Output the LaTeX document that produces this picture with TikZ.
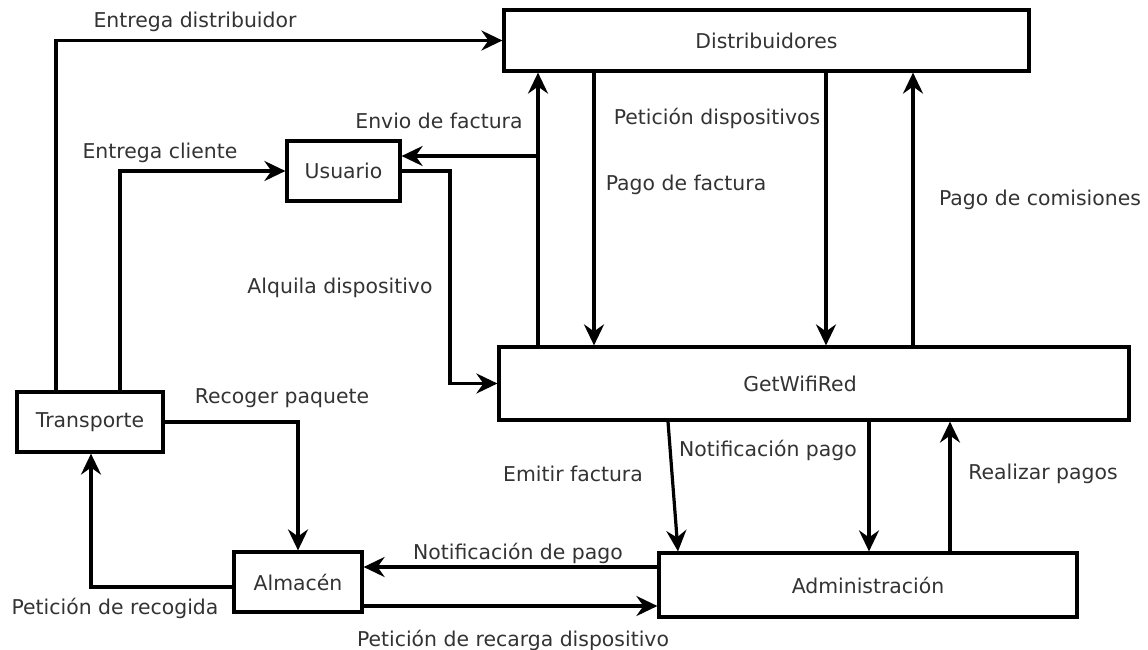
\documentclass[tikz,border=0pt]{standalone}
\usepackage{fontspec}
\setmainfont{DejaVu Sans}
\usetikzlibrary{arrows.meta}
\begin{document}
\begin{tikzpicture}[x=1pt,y=-1pt,
  font=\fontsize{20.4}{24}\selectfont,
  box/.style={draw, line width=3.2pt, fill=white, inner sep=0pt, text=black!80},
  arr/.style={line width=3.2pt, -{Stealth[length=21pt, width=20pt, inset=7pt]}},
  lbl/.style={text=black!80, inner sep=0pt}]
\useasboundingbox (0,0) rectangle (1148,650);

% entities
\node[box, minimum width=525pt, minimum height=61pt] (distr) at (766.5,40.5) {Distribuidores};
\node[box, minimum width=113pt, minimum height=60pt] (user) at (343.5,171) {Usuario};
\node[box, minimum width=630pt, minimum height=73pt,
      label={[lbl, xshift=-14pt]center:GetWifiRed}] (get) at (814,383.5) {};
\node[box, minimum width=146pt, minimum height=60pt] (trans) at (90,422) {Transporte};
\node[box, minimum width=128pt, minimum height=60pt] (alm) at (298,582) {Almacén};
\node[box, minimum width=418pt, minimum height=64pt] (admin) at (868,585) {Administración};

% branch point of the invoice line
\coordinate (jf) at (538,156);

% flows
\draw[arr] (trans.north -| 56,0) |- (distr.west);
\draw[arr] (trans.north -| 120,0) |- (user.west);
\draw[arr] (get.north -| 538,0) -- (distr.south -| 538,0);
\draw[arr] (jf) -- (user.east |- jf);
\draw[arr] (user.east) -- (450,0 |- user.east) |- (get.west);
\draw[arr] (distr.south -| 594,0) -- (get.north -| 594,0);
\draw[arr] (distr.south -| 826,0) -- (get.north -| 826,0);
\draw[arr] (get.north -| 913,0) -- (distr.south -| 913,0);
\draw[arr] (get.south -| 668,0) -- (admin.north -| 678,0);
\draw[arr] (get.south -| 869,0) -- (admin.north -| 869,0);
\draw[arr] (admin.north -| 950,0) -- (get.south -| 950,0);
\draw[arr] (trans.east) -| (alm.north);
\draw[arr] (alm.west |- 0,587) -| (trans.south -| 91,0);
\draw[arr] (admin.west |- 0,567) -- (alm.east |- 0,567);
\draw[arr] (alm.east |- 0,606) -- (admin.west |- 0,606);

% flow labels
\node[lbl] (l1) at (195,22) {Entrega distribuidor};
\node[lbl] (l2) at (160,153) {Entrega cliente};
\node[lbl] (l3) at (439,121) {Envio de factura};
\node[lbl] (l4) at (340,288) {Alquila dispositivo};
\node[lbl] (l5) at (686,185) {Pago de factura};
\node[lbl] (l6) at (717,118) {Petición dispositivos};
\node[lbl] (l7) at (1040,200) {Pago de comisiones};
\node[lbl] (l8) at (573,474) {Emitir factura};
\node[lbl] (l9) at (768,450) {Notificación pago};
\node[lbl] (l10) at (1043,474) {Realizar pagos};
\node[lbl] (l11) at (282,398) {Recoger paquete};
\node[lbl] (l12) at (115,608) {Petición de recogida};
\node[lbl] (l13) at (518,553) {Notificación de pago};
\node[lbl] (l14) at (513,640) {Petición de recarga dispositivo};
\end{tikzpicture}
\end{document}
